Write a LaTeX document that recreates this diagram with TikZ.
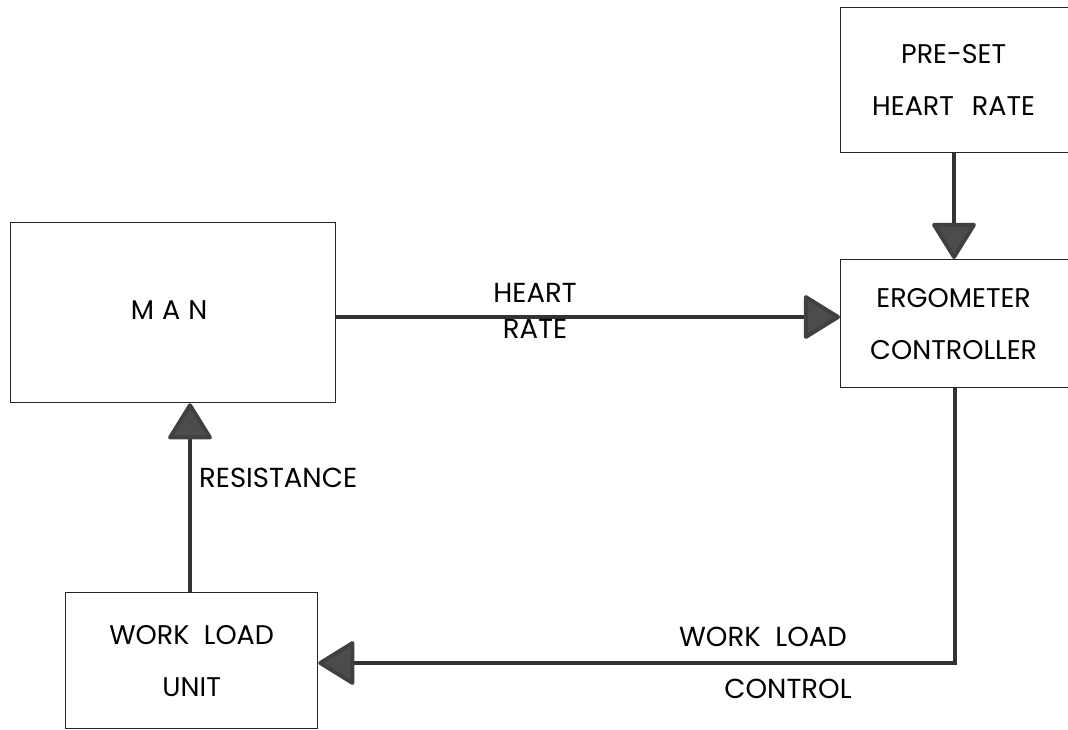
\documentclass[tikz,border=0pt]{standalone}
\usepackage{fontspec}
\setmainfont{Poppins}
\usetikzlibrary{arrows.meta}
\begin{document}
\begin{tikzpicture}[x=1pt,y=-1pt,
  box/.style={draw=black!85, line width=1.3pt, anchor=north west, inner sep=0pt, align=center,
              font=\fontsize{27}{52}\selectfont},
  lbl/.style={font=\fontsize{27.5}{30}\selectfont, inner sep=0pt},
  conn/.style={draw=black!80, line width=4pt,
               -{Triangle[length=38pt,width=46pt,round,fill=black!70,color=black!75]}}]
\useasboundingbox (0,0) rectangle (1068,730);
% boxes
\node[box, minimum width=325pt, minimum height=180pt] (man) at (10,222)
  {\raisebox{5pt}{\hspace*{-8pt}\addfontfeature{LetterSpace=30}MAN}};
\node[box, minimum width=252pt, minimum height=136pt] (wlu) at (65,592)
  {WORK\ \ LOAD\\UNIT};
\node[box, minimum width=232pt, minimum height=145pt, text width=228pt] (preset) at (840,7)
  {\hspace*{-6pt}PRE-SET\\\hspace*{-6pt}HEART\ \ RATE};
\node[box, minimum width=232pt, minimum height=128pt, text width=228pt] (ergo) at (840,259)
  {\hspace*{-6pt}ERGOMETER\\\hspace*{-6pt}CONTROLLER};
% helper coordinates
\coordinate (px) at (954,0);
\coordinate (hr) at (0,317);
\coordinate (rx) at (190,0);
\coordinate (cx) at (955,0);
\coordinate (cy) at (0,663);
% connectors
\draw[conn] (preset.south -| px) -- (ergo.north -| px);
\draw[conn] (man.east |- hr) -- (ergo.west |- hr);
\draw[conn] (wlu.north -| rx) -- (man.south -| rx);
\draw[conn] (ergo.south -| cx) |- (wlu.east |- cy);
% labels
\node[lbl] (hrtop) at (535,293) {HEART};
\node[lbl] (hrbot) at (535,329) {RATE};
\node[lbl, anchor=west] (res) at (199,478) {RESISTANCE};
\node[lbl] (wltop) at (763,637) {WORK\ \ LOAD};
\node[lbl] (wlbot) at (788,689) {CONTROL};
\end{tikzpicture}
\end{document}
